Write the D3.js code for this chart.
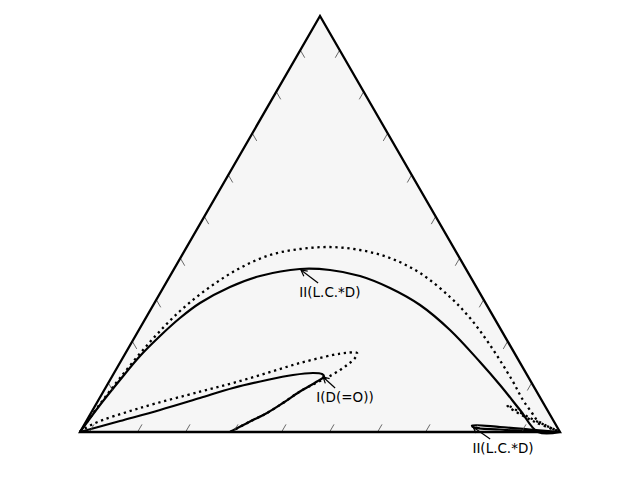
<!DOCTYPE html>
<html><head><meta charset="utf-8">
<script src="https://cdn.jsdelivr.net/npm/d3@7"></script>
<style>body{margin:0;background:#fff}</style>
</head><body>
<svg id="c" width="640" height="480"></svg>
<script>
// Ternary coordinates: [top fraction, right fraction]; left = 1 - top - right
const upperSolid = [[0,0],[0.0649,0.0092],[0.125,0.0208],[0.1827,0.0337],[0.2308,0.0513],[0.274,0.0713],[0.310,0.095],[0.3486,0.1382],[0.375,0.1875],[0.3918,0.2624],[0.3894,0.3261],[0.375,0.3958],[0.3462,0.4727],[0.3053,0.5557],[0.2452,0.6482],[0.1683,0.7492],[0.113,0.8185],[0.0529,0.8903],[0,0.9542],[0,1]];
const upperDotted = [[0,0],[0.0673,0.008],[0.1298,0.0184],[0.2163,0.0376],[0.2909,0.0629],[0.3486,0.0965],[0.3942,0.1362],[0.4255,0.1831],[0.4399,0.2383],[0.4447,0.2984],[0.4375,0.3645],[0.4183,0.4367],[0.3822,0.5172],[0.3245,0.6085],[0.274,0.6755],[0.2091,0.7496],[0.125,0.8375],[0.0769,0.8844],[0.0457,0.9189],[0.0288,0.9377],[0.0168,0.9604],[0,1]];
const lowerSolid = [[0,0],[0.0264,0.0701],[0.0529,0.1403],[0.0817,0.2091],[0.1058,0.2659],[0.125,0.3271],[0.137,0.3753],[0.1418,0.4145],[0.1394,0.4345],[0.1334,0.4416],[0.1214,0.4331],[0.0974,0.4096],[0.0697,0.3880],[0.0457,0.3668],[0.0252,0.3416],[0,0.3125]];
const lowerDotted = [[0,0],[0.0192,0.0175],[0.0577,0.0962],[0.0969,0.2016],[0.1178,0.2599],[0.1418,0.3187],[0.1659,0.3754],[0.1851,0.4346],[0.1906,0.4610],[0.1899,0.4821],[0.1779,0.4840],[0.1611,0.4758],[0.1442,0.4633],[0.1322,0.4506],[0.1226,0.4387],[0.0974,0.4096],[0.0697,0.3880],[0.0457,0.3668],[0.0252,0.3416],[0,0.3125]];
const cornerSolid = [[0,1],[0.006,0.9345],[0.012,0.869],[0.0156,0.8089],[0.0108,0.8154],[0.006,0.872],[0.0012,0.9369],[0,1]];
const cornerDotted = [[0,1],[0.0337,0.9207],[0.0649,0.8571],[0.0577,0.867],[0.024,0.9359],[0,1]];

// annotations: label, target [top,right], text anchor (baseline centre) [top,right]
const annLabels = ["II(L.C.*D)","I(D(=O))","II(L.C.*D)"];
const annTargets = [[0.3894,0.2657],[0.1322,0.4402],[0.012,0.8128]];
const annTexts = [[0.3245,0.3585],[0.0721,0.5160],[-0.0505,0.9065]];

// tick positions (fractions along edges)
const bottomTicks = [0.02,0.12,0.22,0.32,0.42,0.52,0.62,0.72,0.82,0.92];
const sideTicks = [0.082,0.182,0.282,0.382,0.482,0.582,0.682,0.782,0.882];

const svg = d3.select('#c');
const X = d3.scaleLinear().domain([0,1]).range([80,560]);
const Y = d3.scaleLinear().domain([0,1]).range([432,16]);
const px = d => [X(d[1] + d[0]/2), Y(d[0])];

const tri = [[0,0],[0,1],[1,0]].map(px);
svg.append('polygon').attr('points', tri.map(p=>p.join(',')).join(' '))
  .attr('fill','#f6f6f6').attr('stroke','none');

const line = d3.line().x(d=>px(d)[0]).y(d=>px(d)[1]).curve(d3.curveCatmullRom.alpha(0.5));
const series = [
  {d: upperDotted, dash: '2.3 3.7'},
  {d: lowerDotted, dash: '2.3 3.7'},
  {d: cornerDotted, dash: '2.3 3.7'},
  {d: upperSolid, dash: null},
  {d: lowerSolid, dash: null},
  {d: cornerSolid, dash: null}
];
series.forEach(s => {
  svg.append('path').attr('d', line(s.d)).attr('fill','none')
    .attr('stroke','#000').attr('stroke-width', s.dash ? 2.3 : 2.2)
    .attr('stroke-dasharray', s.dash).attr('stroke-linejoin','round');
});

// ticks
const tl = 8.8, c60 = 0.5, s60 = Math.sqrt(3)/2;
const tg = svg.append('g').attr('stroke','#444').attr('stroke-width',0.8);
bottomTicks.forEach(f => {
  const x0 = X(f), y0 = Y(0);
  tg.append('line').attr('x1',x0).attr('y1',y0).attr('x2',x0+tl*c60).attr('y2',y0-tl*s60);
});
sideTicks.forEach(f => {
  const pl = px([1-f, 0]);
  tg.append('line').attr('x1',pl[0]).attr('y1',pl[1]).attr('x2',pl[0]+tl*c60).attr('y2',pl[1]+tl*s60);
  const pr = px([1-f, f]);
  tg.append('line').attr('x1',pr[0]).attr('y1',pr[1]).attr('x2',pr[0]-tl*c60).attr('y2',pr[1]+tl*s60);
});

svg.append('polygon').attr('points', tri.map(p=>p.join(',')).join(' '))
  .attr('fill','none').attr('stroke','#000').attr('stroke-width',2.3).attr('stroke-linejoin','miter');

// annotations
annLabels.forEach((lab,i) => {
  const tp = px(annTexts[i]);
  const txt = svg.append('text').attr('x',tp[0]).attr('y',tp[1])
    .attr('text-anchor','middle').attr('font-family','DejaVu Sans')
    .attr('font-size','13.5px').attr('fill','#000').text(lab);
  const bb = txt.node().getBBox();
  const hp = px(annTargets[i]);
  const cx = bb.x + bb.width/2, cy = bb.y + bb.height/2;
  let dx = hp[0]-cx, dy = hp[1]-cy;
  const sx = (bb.width/2+1)/Math.abs(dx||1e-6), sy = (bb.height/2+1)/Math.abs(dy||1e-6);
  const s = Math.min(sx, sy);
  const tx = cx + dx*s, ty = cy + dy*s;
  svg.append('line').attr('x1',tx).attr('y1',ty).attr('x2',hp[0]).attr('y2',hp[1])
    .attr('stroke','#000').attr('stroke-width',1.2);
  const L = Math.hypot(hp[0]-tx, hp[1]-ty);
  const ux = (hp[0]-tx)/L, uy = (hp[1]-ty)/L;
  const hl = 6, hw = 3.2;
  const p1 = [hp[0]-hl*ux+hw*uy, hp[1]-hl*uy-hw*ux];
  const p2 = [hp[0]-hl*ux-hw*uy, hp[1]-hl*uy+hw*ux];
  svg.append('path').attr('d', `M${p1}L${hp}L${p2}`).attr('fill','none')
    .attr('stroke','#000').attr('stroke-width',1.2);
});
</script>
</body></html>
